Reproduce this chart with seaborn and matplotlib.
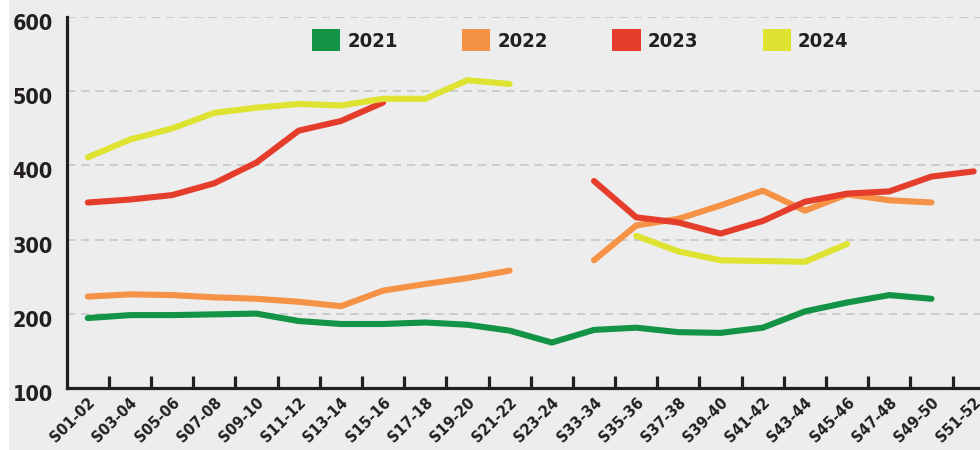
import numpy as np
import pandas as pd
import matplotlib
matplotlib.use("Agg")
import matplotlib.pyplot as plt
import matplotlib.transforms as mtransforms
from matplotlib import font_manager
from matplotlib.patches import Patch, Rectangle
import seaborn as sns

# data
weeks = ['S01-02', 'S03-04', 'S05-06', 'S07-08', 'S09-10', 'S11-12', 'S13-14',
         'S15-16', 'S17-18', 'S19-20', 'S21-22', 'S23-24', 'S33-34', 'S35-36',
         'S37-38', 'S39-40', 'S41-42', 'S43-44', 'S45-46', 'S47-48', 'S49-50',
         'S51-52']
years = ['2021', '2022', '2023', '2024']
v2021 = [194, 198, 198, 199, 200, 190, 186, 186, 188, 185, 177, 161, 178, 181,
         175, 174, 181, 203, 215, 225, 220, None]
v2022 = [223, 226, 225, 222, 220, 216, 210, 231, 240, 248, 258, None, 272, 319,
         328, 346, 366, 339, 361, 353, 350, None]
v2023 = [350, 354, 360, 376, 404, 447, 460, 485, None, None, None, None, 379, 330,
         323, 308, 325, 351, 362, 365, 385, 392]
v2024 = [411, 435, 450, 471, 478, 483, 481, 490, 490, 515, 510, None, None, 305,
         284, 272, 271, 270, 294, None, None, None]
colors = ['#139345', '#f69246', '#e53d2c', '#dde330']

# long table, one "segment" id per unbroken stretch so gaps stay open
rows = []
for year, vals in zip(years, [v2021, v2022, v2023, v2024]):
    seg = 0
    prev = None
    for i, v in enumerate(vals):
        if v is None:
            prev = None
            continue
        if prev is None:
            seg += 1
        rows.append({'pos': i, 'value': v, 'year': year, 'segment': f'{year}-{seg}'})
        prev = v
df = pd.DataFrame(rows)

sns.set_theme(style='white')
plt.rcParams['font.family'] = ['DejaVu Sans']


def find_condensed_bold():
    # look for any narrow/condensed bold face that happens to be installed
    best = None
    for f in font_manager.fontManager.ttflist:
        fn = f.fname.lower()
        narrow = ('condensed' in fn or 'narrow' in fn or f.stretch in ('condensed', 'semi-condensed'))
        bold = ('bold' in fn and 'oblique' not in fn and 'italic' not in fn)
        if narrow and bold and 'mono' not in fn and 'serif' not in fn.replace('sans', ''):
            if best is None or 'liberation' in fn:
                best = f.fname
    return best


cond = find_condensed_bold()


def fp(size):
    if cond:
        return font_manager.FontProperties(fname=cond, size=size)
    return font_manager.FontProperties(family='DejaVu Sans', weight='bold', size=size)


ink = '#231f20'
bg = '#ededed'

fig = plt.figure(figsize=(9.8, 4.5), dpi=100, facecolor='white')
fig.patches.append(Rectangle((9 / 980, 0), 1, 1, transform=fig.transFigure,
                             facecolor=bg, edgecolor='none', zorder=-10))
ax = fig.add_axes([66.7 / 980, 1 - 387.7 / 450, 1 - 66.7 / 980, (387.7 - 17.3) / 450])
ax.set_facecolor(bg)

sns.lineplot(data=df, x='pos', y='value', hue='year', units='segment',
             estimator=None, palette=dict(zip(years, colors)), linewidth=4.4,
             legend=False, ax=ax, solid_capstyle='round', clip_on=False)

ax.set_xlim(-0.5, 21.15)
ax.set_ylim(100, 600)
ax.set_xlabel('')
ax.set_ylabel('')

# grid
ax.set_yticks([100, 200, 300, 400, 500, 600])
ax.yaxis.grid(True, color='#c6c6c6', linestyle=(0, (5, 3.5)), linewidth=1.2)
ax.xaxis.grid(False)
ax.set_axisbelow(True)

for s in ['top', 'right']:
    ax.spines[s].set_visible(False)
for s in ['left', 'bottom']:
    ax.spines[s].set_color(ink)
    ax.spines[s].set_linewidth(2.3)
    ax.spines[s].set_zorder(5)

# x ticks: labels under each point, marks at the boundaries
ax.set_xticks(range(len(weeks)))
ax.set_xticklabels(weeks, rotation=45, ha='right', va='center',
                   rotation_mode='anchor', color=ink)
ax.set_xticks(np.arange(0.5, len(weeks) - 1, 1), minor=True)
ax.tick_params(axis='x', which='major', bottom=True, length=0, pad=9)
ax.tick_params(axis='x', which='minor', bottom=True, direction='in', length=9,
               width=2.3, color=ink)
shift = mtransforms.ScaledTranslation(5 / 100, 0, fig.dpi_scale_trans)
for lab in ax.get_xticklabels():
    lab.set_fontproperties(fp(9.5 if not cond else 11.5))
    lab.set_transform(lab.get_transform() + shift)

ax.tick_params(axis='y', length=0, pad=10, labelcolor=ink)
yshift = mtransforms.ScaledTranslation(0, -5 / 100, fig.dpi_scale_trans)
for lab in ax.get_yticklabels():
    lab.set_fontproperties(fp(14 if not cond else 15.5))
    lab.set_transform(lab.get_transform() + yshift)

# legend
handles = [Patch(facecolor=c, edgecolor='none', label=y) for y, c in zip(years, colors)]
fig.legend(handles=handles, loc='upper left', bbox_to_anchor=(312 / 980, 1 - 29 / 450),
           ncol=4, frameon=False, borderpad=0, borderaxespad=0,
           handlelength=1.4, handleheight=1.3, handletextpad=0.35,
           columnspacing=3.2, prop=fp(14.5),
           labelcolor=ink)

fig.savefig('out.png', dpi=100, facecolor=fig.get_facecolor())
